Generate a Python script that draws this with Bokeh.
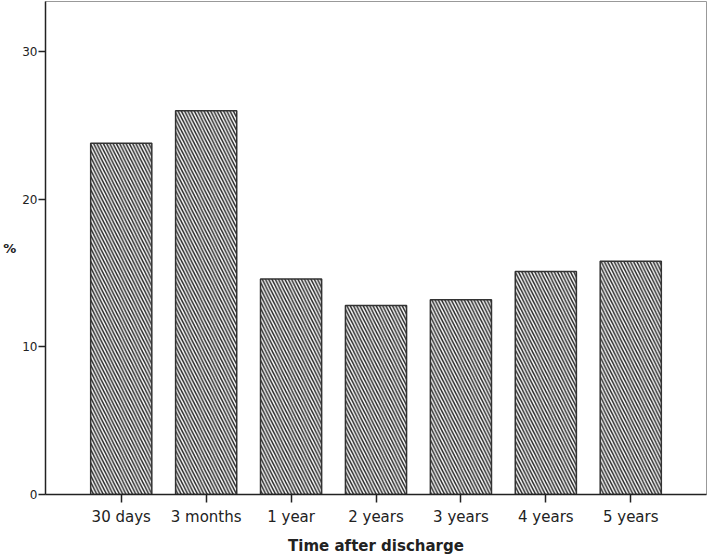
from bokeh.plotting import figure
from bokeh.models import FactorRange, Range1d, FixedTicker
from bokeh.embed import file_html
from bokeh.resources import INLINE

categories = ["30 days", "3 months", "1 year", "2 years", "3 years", "4 years", "5 years"]
percent = [23.8, 26.0, 14.6, 12.8, 13.2, 15.1, 15.8]
y_ticks = [0, 10, 20, 30]

p = figure(
    width=709, height=557,
    x_range=FactorRange(factors=categories, range_padding=0.112, factor_padding=0),
    y_range=Range1d(0, 33.4),
    output_backend="svg", toolbar_location=None,
    min_border_left=43, min_border_right=3, min_border_top=1, min_border_bottom=62,
)

p.vbar(x=categories, top=percent, width=0.72, fill_color="white",
       line_color="#333333", line_width=1.5,
       hatch_pattern="\\", hatch_color="#2a2a2a", hatch_scale=6.5, hatch_weight=1.5)

p.grid.visible = False
p.outline_line_color = "#999999"
p.outline_line_width = 1

for ax in (p.xaxis, p.yaxis):
    ax.axis_line_color = "#222222"
    ax.axis_line_width = 1.5
    ax.major_tick_line_color = "#222222"
    ax.major_tick_line_width = 1.5
    ax.major_tick_in = 0
    ax.minor_tick_line_color = None
    ax.major_label_text_color = "#222222"
    ax.major_label_text_font = "DejaVu Sans"

p.yaxis.ticker = FixedTicker(ticks=y_ticks)
p.yaxis.major_tick_out = 7
p.yaxis.major_label_standoff = 1
p.yaxis.major_label_text_font_size = "12px"
p.yaxis.axis_label = "%"
p.yaxis.axis_label_text_font = "DejaVu Sans"
p.yaxis.axis_label_text_font_style = "bold"
p.yaxis.axis_label_text_font_size = "13px"
p.yaxis.axis_label_text_color = "#222222"
p.yaxis.axis_label_standoff = 3
try:
    p.yaxis.axis_label_orientation = "horizontal"
except Exception:
    pass

p.xaxis.major_tick_out = 8
p.xaxis.major_label_standoff = 5
p.xaxis.major_label_text_font_size = "15px"
p.xaxis.axis_label = "Time after discharge"
p.xaxis.axis_label_text_font = "DejaVu Sans"
p.xaxis.axis_label_text_font_style = "bold"
p.xaxis.axis_label_text_font_size = "15px"
p.xaxis.axis_label_text_color = "#222222"
p.xaxis.axis_label_standoff = 8

open("out.html", "w").write(file_html(p, INLINE))
